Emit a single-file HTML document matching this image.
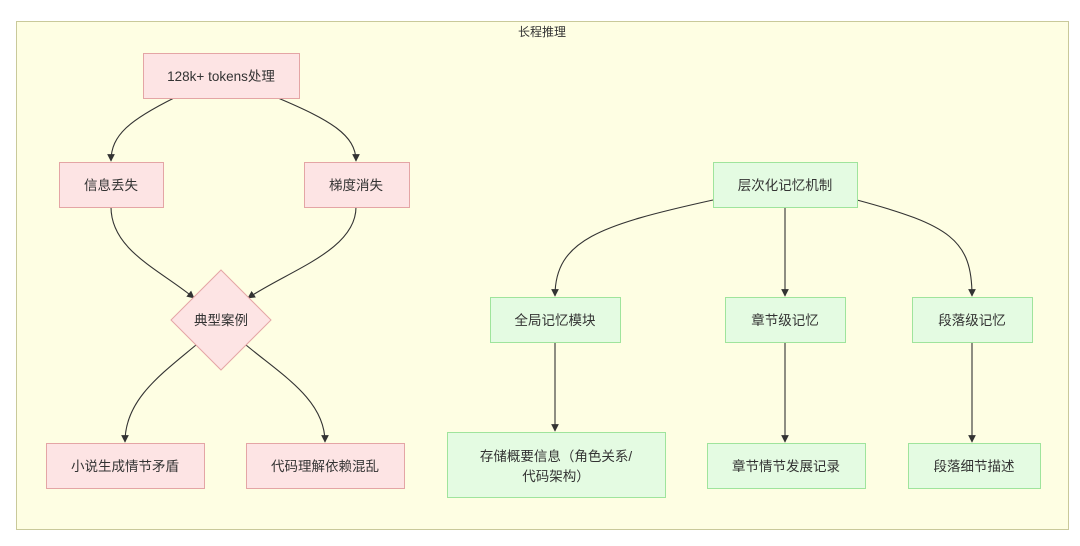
<!DOCTYPE html>
<html><head><meta charset="utf-8"><style>
html,body{margin:0;padding:0;background:#fff;}
body{width:1080px;height:541px;overflow:hidden;font-family:"Liberation Sans","Noto Sans CJK SC",sans-serif;}
</style></head><body>
<svg width="1080" height="541" xmlns="http://www.w3.org/2000/svg" font-family="Liberation Sans, Noto Sans CJK SC, sans-serif" font-size="13.5" fill="#333">
<defs><marker id="a" viewBox="0 0 10 10" refX="9" refY="5" markerWidth="7" markerHeight="7" orient="auto"><path d="M0,0L10,5L0,10z" fill="#333"/></marker></defs>
<rect x="16.5" y="21.5" width="1052" height="508" fill="#fefee3" stroke="#c9c99a"/>
<text x="542" y="36" text-anchor="middle" font-size="12">长程推理</text>
<g fill="none" stroke="#333" stroke-width="1.1" marker-end="url(#a)">
<path d="M174,98 C130,120 111,135 111,161"/>
<path d="M278,98 C330,120 356,135 356,161"/>
<path d="M111,207 C111,250 160,270 194,298"/>
<path d="M356,207 C356,250 290,270 248,298"/>
<path d="M196,345 C160,375 125,400 125,442"/>
<path d="M246,345 C282,375 325,400 325,442"/>
<path d="M713,200 C600,225 555,240 555,296"/>
<path d="M785,207 L785,296"/>
<path d="M857,200 C950,225 972,240 972,296"/>
<path d="M555,342 L555,431"/>
<path d="M785,342 L785,442"/>
<path d="M972,342 L972,442"/>
</g>
<g fill="#fde4e4" stroke="#e4a5a5">
<rect x="143.5" y="53.5" width="156" height="45"/>
<rect x="59.5" y="162.5" width="104" height="45"/>
<rect x="304.5" y="162.5" width="105" height="45"/>
<polygon points="221,270 271,320 221,370 171,320"/>
<rect x="46.5" y="443.5" width="158" height="45"/>
<rect x="246.5" y="443.5" width="158" height="45"/>
</g>
<g fill="#e4fbe2" stroke="#9fe49c">
<rect x="713.5" y="162.5" width="144" height="45"/>
<rect x="490.5" y="297.5" width="130" height="45"/>
<rect x="725.5" y="297.5" width="120" height="45"/>
<rect x="912.5" y="297.5" width="120" height="45"/>
<rect x="447.5" y="432.5" width="218" height="65"/>
<rect x="707.5" y="443.5" width="158" height="45"/>
<rect x="908.5" y="443.5" width="132" height="45"/>
</g>
<g text-anchor="middle">
<text x="221" y="81">128k+ tokens处理</text>
<text x="111" y="190">信息丢失</text>
<text x="356" y="190">梯度消失</text>
<text x="221" y="325">典型案例</text>
<text x="125" y="471">小说生成情节矛盾</text>
<text x="325" y="471">代码理解依赖混乱</text>
<text x="785" y="190">层次化记忆机制</text>
<text x="555" y="325">全局记忆模块</text>
<text x="785" y="325">章节级记忆</text>
<text x="972" y="325">段落级记忆</text>
<text x="556" y="461">存储概要信息（角色关系/</text>
<text x="556" y="481">代码架构）</text>
<text x="786" y="471">章节情节发展记录</text>
<text x="974" y="471">段落细节描述</text>
</g>
</svg>
</body></html>
